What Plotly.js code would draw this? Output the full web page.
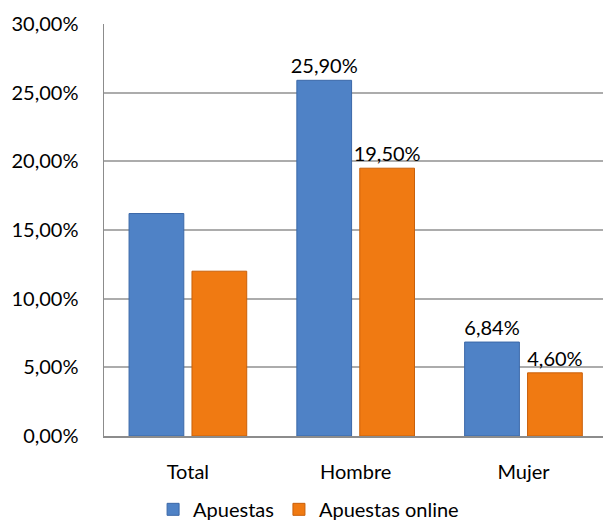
<!DOCTYPE html>
<html>
<head>
<meta charset="utf-8">
<script src="https://cdn.plot.ly/plotly-3.0.1.min.js"></script>
<style>html,body{margin:0;padding:0;background:#fff;overflow:hidden}</style>
</head>
<body>
<div id="chart" style="width:603px;height:524px"></div>
<script>
const categories = ['Total', 'Hombre', 'Mujer'];
const apuestas = [16.2, 25.9, 6.84];
const apuestasOnline = [12.0, 19.5, 4.6];
const labeledCategories = ['Hombre', 'Mujer'];
const yTicks = [0, 5, 10, 15, 20, 25, 30];

function fmt(v) { return v.toFixed(2).replace('.', ',') + '%'; }
function labels(vals) {
  return vals.map((v, i) => labeledCategories.includes(categories[i]) ? fmt(v) : '');
}

const FONT = 'Lato, "Open Sans", sans-serif';
const FS = 20;

const traces = [
  {
    type: 'bar', name: 'Apuestas', x: categories, y: apuestas,
    text: labels(apuestas), textposition: 'outside', cliponaxis: false, constraintext: 'none',
    textfont: {family: FONT, size: FS, color: '#000'},
    marker: {color: '#4f82c6', line: {color: '#3b68a8', width: 1}},
    hoverinfo: 'none'
  },
  {
    type: 'bar', name: 'Apuestas online', x: categories, y: apuestasOnline,
    text: labels(apuestasOnline), textposition: 'outside', cliponaxis: false, constraintext: 'none',
    textfont: {family: FONT, size: FS, color: '#000'},
    marker: {color: '#f07a12', line: {color: '#c9600a', width: 1}},
    hoverinfo: 'none'
  }
];

const layout = {
  width: 603, height: 524,
  margin: {l: 104, r: 0, t: 24, b: 88, autoexpand: false},
  paper_bgcolor: '#fff', plot_bgcolor: '#fff',
  separators: ',.',
  font: {family: FONT, size: FS, color: '#000'},
  barmode: 'group', bargap: 0.25, bargroupgap: 0.13,
  showlegend: true,
  legend: {orientation: 'h', x: 0.41, xanchor: 'center', y: -0.178, yanchor: 'middle',
           font: {family: FONT, size: FS, color: '#000'}, itemwidth: 30, traceorder: 'normal'},
  xaxis: {
    type: 'category', range: [-0.5, 2.474],
    showline: true, linecolor: '#8c8c8c', linewidth: 1.5,
    showgrid: false, ticks: '', ticklabelstandoff: 17,
    tickfont: {family: FONT, size: FS, color: '#000'}
  },
  yaxis: {
    range: [0, 30], tickvals: yTicks, ticktext: yTicks.map(v => fmt(v)),
    showline: true, linecolor: '#8c8c8c', linewidth: 1.5,
    showgrid: true, gridcolor: '#acacac', gridwidth: 2,
    ticks: '', ticklabelstandoff: 20, zeroline: false,
    tickfont: {family: FONT, size: FS, color: '#000'}
  }
};

Plotly.newPlot('chart', traces, layout, {displayModeBar: false, staticPlot: true});
</script>
</body>
</html>
